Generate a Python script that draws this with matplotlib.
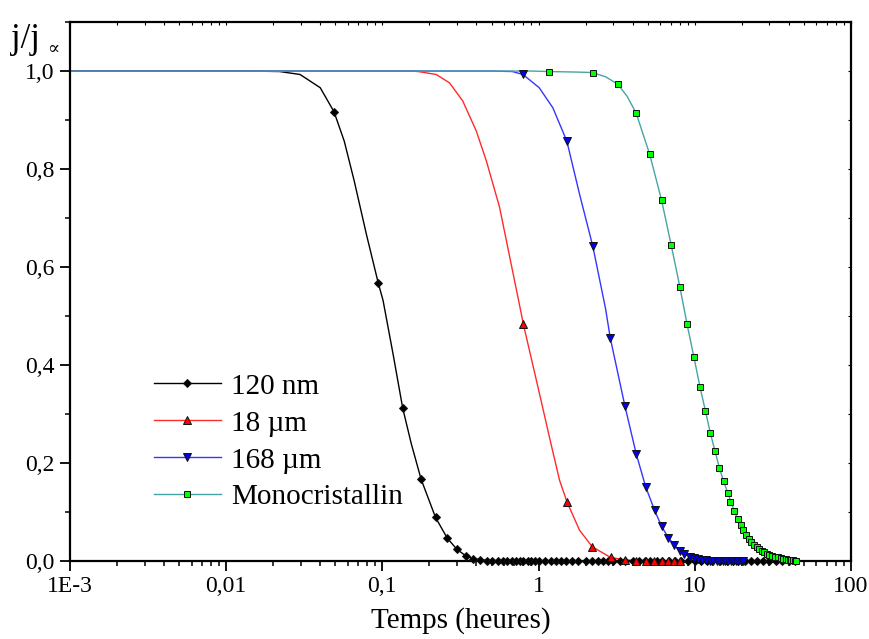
import matplotlib
matplotlib.use("Agg")
import matplotlib.pyplot as plt
from matplotlib.lines import Line2D
from matplotlib.ticker import FixedLocator, NullFormatter, LogLocator

plt.rcParams['font.family'] = ['Liberation Serif', 'DejaVu Serif']

# 120 nm : data points (markers) and fitted curve
t_120 = [0.049, 0.094, 0.135, 0.177, 0.219, 0.260, 0.300, 0.341, 0.382, 0.424,
         0.466, 0.507, 0.549, 0.590, 0.632, 0.673, 0.715, 0.756, 0.80, 0.85,
         0.90, 0.95, 1.0, 1.1, 1.2, 1.3, 1.4, 1.5, 1.65, 1.8,
         2.0, 2.2, 2.4, 2.6, 2.8, 3.0, 3.3, 3.6, 4.0, 4.4,
         4.8, 5.2, 5.7, 6.2, 6.8, 7.5, 8.2, 9.0, 10, 11,
         12, 13, 14.5, 16, 17.5, 19, 21, 23, 25, 27.5,
         30, 33, 36, 40, 44]
j_120 = [0.917, 0.568, 0.312, 0.167, 0.089, 0.047, 0.024, 0.011, 0.005, 0.002,
         0.001, 0, 0, 0, 0, 0, 0, 0, 0, 0,
         0, 0, 0, 0, 0, 0, 0, 0, 0, 0,
         0, 0, 0, 0, 0, 0, 0, 0, 0, 0,
         0, 0, 0, 0, 0, 0, 0, 0, 0, 0,
         0, 0, 0, 0, 0, 0, 0, 0, 0, 0,
         0, 0, 0, 0, 0]
t_120_fit = [0.001, 0.014, 0.022, 0.0297, 0.040, 0.049, 0.057, 0.066, 0.079, 0.094,
             0.101, 0.117, 0.135, 0.153, 0.177, 0.219, 0.260, 0.300, 0.341, 0.382,
             0.45, 0.6, 44]
j_120_fit = [1.0, 1.0, 0.999, 0.993, 0.966, 0.917, 0.857, 0.776, 0.667, 0.568,
             0.532, 0.423, 0.312, 0.24, 0.167, 0.089, 0.047, 0.024, 0.011, 0.005,
             0.002, 0.0, 0.0]

# 18 um
t_18 = [0.80, 1.52, 2.21, 2.89, 3.57, 4.22, 4.85, 5.5, 6.13, 6.77, 7.39, 8.0]
j_18 = [0.483, 0.121, 0.029, 0.0075, 0.003, 0.001, 0, 0, 0, 0, 0, 0]
t_18_fit = [0.001, 0.15, 0.17, 0.221, 0.269, 0.327, 0.399, 0.463, 0.563, 0.764,
            0.80, 1.0, 1.2, 1.363, 1.52, 1.83, 2.21, 2.89, 3.6, 5.0, 8.0]
j_18_fit = [1.0, 1.0, 0.999, 0.993, 0.976, 0.939, 0.878, 0.817, 0.722, 0.515,
            0.483, 0.35, 0.24, 0.165, 0.121, 0.063, 0.029, 0.0075, 0.002, 0.0, 0.0]

# 168 um
t_168 = [0.794, 1.518, 2.228, 2.877, 3.57, 4.22, 4.86, 5.53, 6.13, 6.77,
         7.39, 8.0, 8.6, 9.3, 9.9, 10.5, 11.2, 11.8, 12.5, 13.1,
         13.8, 14.4, 15.1, 15.7, 16.4, 17.0, 17.7, 18.4, 19.0, 19.7, 20.3]
j_168 = [0.993, 0.857, 0.642, 0.456, 0.317, 0.219, 0.151, 0.104, 0.071, 0.048,
         0.033, 0.021, 0.014, 0.009, 0.0055, 0.0035, 0.0026, 0.0014, 0.001, 0.0008,
         0.0005, 0, 0, 0, 0, 0, 0, 0, 0, 0, 0]
t_168_fit = [0.001, 0.5, 0.68, 0.794, 1.01, 1.235, 1.518, 1.83, 2.228, 2.687,
             2.877, 3.57, 4.22, 4.86, 5.53, 6.13, 6.77, 7.39, 8.0, 8.6,
             9.3, 9.9, 10.5, 11.8, 14, 20.3]
j_168_fit = [1.0, 1.0, 0.999, 0.993, 0.966, 0.925, 0.857, 0.749, 0.642, 0.515,
             0.456, 0.317, 0.219, 0.151, 0.104, 0.071, 0.048, 0.033, 0.021, 0.014,
             0.009, 0.0055, 0.0035, 0.0014, 0.0005, 0.0]

# Monocristallin
t_mono = [1.164, 2.217, 3.22, 4.22, 5.15, 6.13, 7.07, 8.03, 8.94, 9.89,
          10.8, 11.72, 12.6, 13.5, 14.4, 15.3, 16.3, 16.9, 17.9, 18.9,
          19.7, 20.5, 21.3, 22.2, 23.1, 24.0, 24.9, 25.9, 26.9, 27.9,
          28.9, 30.1, 31.3, 32.9, 34.1, 35.5, 37.0, 38.5, 39.5, 40.6,
          41.6, 42.6, 43.6, 44.6]
j_mono = [0.999, 0.997, 0.973, 0.914, 0.830, 0.737, 0.645, 0.560, 0.483, 0.416,
          0.356, 0.306, 0.261, 0.224, 0.190, 0.163, 0.139, 0.120, 0.102, 0.086,
          0.073, 0.063, 0.054, 0.045, 0.039, 0.033, 0.028, 0.024, 0.020, 0.018,
          0.015, 0.013, 0.011, 0.009, 0.0075, 0.006, 0.0047, 0.0035, 0.003, 0.0027,
          0.002, 0.0015, 0.001, 0.0006]
t_mono_fit = [0.001, 0.9, 1.164, 1.7, 2.217, 2.7, 3.22, 3.7, 4.22, 5.15,
              6.13, 7.07, 8.03, 8.94, 9.89, 10.8, 11.72, 12.6, 13.5, 14.4,
              15.3, 16.3, 17.9, 19.7, 21.3, 23.1, 24.9, 26.9, 28.9, 31.3,
              34.1, 37.0, 40.6, 44.6]
j_mono_fit = [1.0, 1.0, 0.999, 0.998, 0.997, 0.988, 0.973, 0.948, 0.914, 0.830,
              0.737, 0.645, 0.560, 0.483, 0.416, 0.356, 0.306, 0.261, 0.224, 0.190,
              0.163, 0.139, 0.102, 0.073, 0.054, 0.039, 0.028, 0.020, 0.015, 0.011,
              0.0075, 0.0047, 0.0027, 0.0006]

labels = ['120 nm', '18 µm', '168 µm', 'Monocristallin']
x_ticks = [1e-3, 1e-2, 1e-1, 1, 10, 100]
x_ticklabels = ['1E-3', '0,01', '0,1', '1', '10', '100']
y_ticks = [0.0, 0.2, 0.4, 0.6, 0.8, 1.0]
y_ticklabels = ['0,0', '0,2', '0,4', '0,6', '0,8', '1,0']

series = [
    (t_120_fit, j_120_fit, t_120, j_120, 'black', 'D', 'black', 4.5),
    (t_18_fit, j_18_fit, t_18, j_18, '#ff2a2a', '^', '#ff0000', 5.7),
    (t_168_fit, j_168_fit, t_168, j_168, '#3535ff', 'v', '#0000ee', 5.7),
    (t_mono_fit, j_mono_fit, t_mono, j_mono, '#45a5a5', 's', '#00ff00', 4.6),
]

fig = plt.figure(figsize=(8.7, 6.39), dpi=100)
ax = fig.add_axes([0.0805, 0.122, 0.8975, 0.8435])

handles = []
for tf, jf, tm, jm, lc, mk, fc, ms in series:
    ax.plot(tf, jf, color=lc, lw=1.0, zorder=2)
    ax.plot(tm, jm, ls='none', marker=mk, ms=ms, mfc=fc, mec='#111111',
            mew=0.7, clip_on=False, zorder=3)
    handles.append(Line2D([], [], color=lc, lw=1.0, marker=mk, ms=ms,
                          mfc=fc, mec='#111111', mew=0.7))

ax.set_xscale('log')
ax.set_xlim(1e-3, 100)
ax.set_ylim(0, 1.1)

ax.set_xticks(x_ticks)
ax.set_xticklabels(x_ticklabels)
ax.xaxis.set_minor_locator(LogLocator(base=10, subs=range(2, 10)))
ax.xaxis.set_minor_formatter(NullFormatter())
ax.set_yticks(y_ticks)
ax.set_yticklabels(y_ticklabels)
ax.yaxis.set_minor_locator(FixedLocator([0.1, 0.3, 0.5, 0.7, 0.9, 1.1]))

for s in ax.spines.values():
    s.set_linewidth(1.6)
ax.tick_params(axis='both', which='major', direction='out', length=7, width=1.3,
               labelsize=17, pad=4)
ax.tick_params(axis='both', which='minor', direction='out', length=3.5, width=1.1)
# mirrored short ticks inside on top and right
ax2 = ax.secondary_xaxis('top')
ax2.set_xticks(x_ticks)
ax2.xaxis.set_minor_locator(LogLocator(base=10, subs=range(2, 10)))
ax2.tick_params(which='both', direction='in', length=2.5, width=0.8,
                labeltop=False)
ax2.xaxis.set_minor_formatter(NullFormatter())
ax2.spines['top'].set_visible(False)
ay2 = ax.secondary_yaxis('right')
ay2.set_yticks(y_ticks)
ay2.yaxis.set_minor_locator(FixedLocator([0.1, 0.3, 0.5, 0.7, 0.9, 1.1]))
ay2.tick_params(which='both', direction='in', length=2.5, width=0.8,
                labelright=False)
ay2.spines['right'].set_visible(False)

ax.set_xlabel('Temps (heures)', fontsize=21, labelpad=7)

fig.text(0.013, 0.925, 'j/j', fontsize=25)
fig.text(0.054, 0.916, '∝', fontsize=13)

ax.legend(handles, labels, loc='upper left', bbox_to_anchor=(0.092, 0.37),
          frameon=False, fontsize=21, handlelength=2.3, handletextpad=0.35,
          labelspacing=0.36, borderaxespad=0)

fig.savefig('out.png', dpi=100)
